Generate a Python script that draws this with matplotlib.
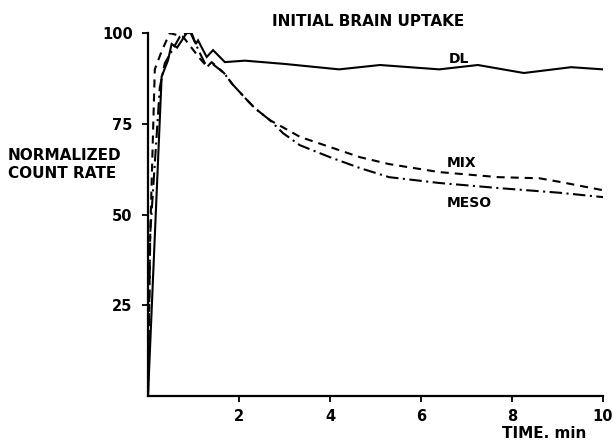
import numpy as np
import matplotlib
matplotlib.use('Agg')
from matplotlib import pyplot as plt

# values (time in min, normalized count rate)
dl_t = [0, 0.30, 0.44, 0.52, 0.64, 0.85, 0.96, 1.05, 1.10, 1.29, 1.43, 1.69,
        2.13, 3.0, 4.2, 5.1, 6.4, 7.25, 8.26, 9.3, 10]
dl_y = [0, 88, 92.5, 97, 96, 100, 100, 97, 98, 93.4, 95.3, 92,
        92.4, 91.5, 90, 91.2, 90, 91.2, 89, 90.6, 90]

mix_t = [0, 0.05, 0.15, 0.30, 0.48, 0.77, 1.14, 1.30, 1.40, 1.67, 1.85, 2.18,
         2.35, 2.68, 2.97, 3.34, 4.0, 4.66, 5.3, 6.4, 7.7, 8.6, 9.05, 10]
mix_y = [0, 45, 90, 95, 100, 99, 93, 90.7, 92, 89, 86, 81.5,
         79.3, 76, 74, 71.4, 68.6, 65.8, 63.9, 61.7, 60.3, 60, 59, 56.7]

meso_t = [0, 0.05, 0.26, 0.37, 0.70, 0.92, 1.14, 1.29, 1.40, 1.67, 1.85, 2.18,
          2.35, 2.68, 2.97, 3.34, 4.0, 4.66, 5.3, 6.4, 7.7, 9.05, 10]
meso_y = [0, 45, 85, 91.7, 99, 100.5, 94.5, 90.7, 91.7, 89, 86, 81.5,
          79.3, 76, 72.4, 69.1, 65.8, 62.8, 60.3, 58.7, 57.3, 56, 54.8]

xticks = [2, 4, 6, 8, 10]
yticks = [25, 50, 75, 100]

plt.rcParams['font.family'] = ['DejaVu Sans']
plt.rcParams['lines.scale_dashes'] = False

fig = plt.figure(figsize=(6.13, 4.41), dpi=100)
ax = fig.add_axes([0.2414, 0.102, 0.7423, 0.823])

ax.plot(dl_t, dl_y, color='black', lw=1.5, solid_joinstyle='miter')
ax.plot(mix_t, mix_y, color='black', lw=1.5, linestyle=(0, (5.8, 4.3)))
ax.plot(meso_t, meso_y, color='black', lw=1.5, linestyle=(0, (9, 3.2, 1.5, 3.2)))

ax.set_xlim(0, 10)
ax.set_ylim(0, 100)
ax.spines['top'].set_visible(False)
ax.spines['right'].set_visible(False)
ax.spines['left'].set_linewidth(1.6)
ax.spines['bottom'].set_linewidth(1.6)
ax.set_xticks(xticks)
ax.set_yticks(yticks)
ax.tick_params(direction='out', length=4, width=1.3, labelsize=10.5, pad=5)
ax.tick_params(axis='y', pad=7)
for lab in ax.get_xticklabels() + ax.get_yticklabels():
    lab.set_fontweight('bold')

ax.text(6.62, 91.8, 'DL', fontsize=10, fontweight='bold')
ax.text(6.57, 63.1, 'MIX', fontsize=10, fontweight='bold')
ax.text(6.57, 52.0, 'MESO', fontsize=10, fontweight='bold')

fig.text(0.600, 0.952, 'INITIAL BRAIN UPTAKE', fontsize=11, fontweight='bold',
         ha='center', va='center')
fig.text(0.013, 0.628, 'NORMALIZED\nCOUNT RATE', fontsize=11, fontweight='bold',
         ha='left', va='center', linespacing=1.25)
fig.text(0.957, 0.018, 'TIME. min', fontsize=11, fontweight='bold',
         ha='right', va='center')

fig.savefig('out.png', dpi=100)
